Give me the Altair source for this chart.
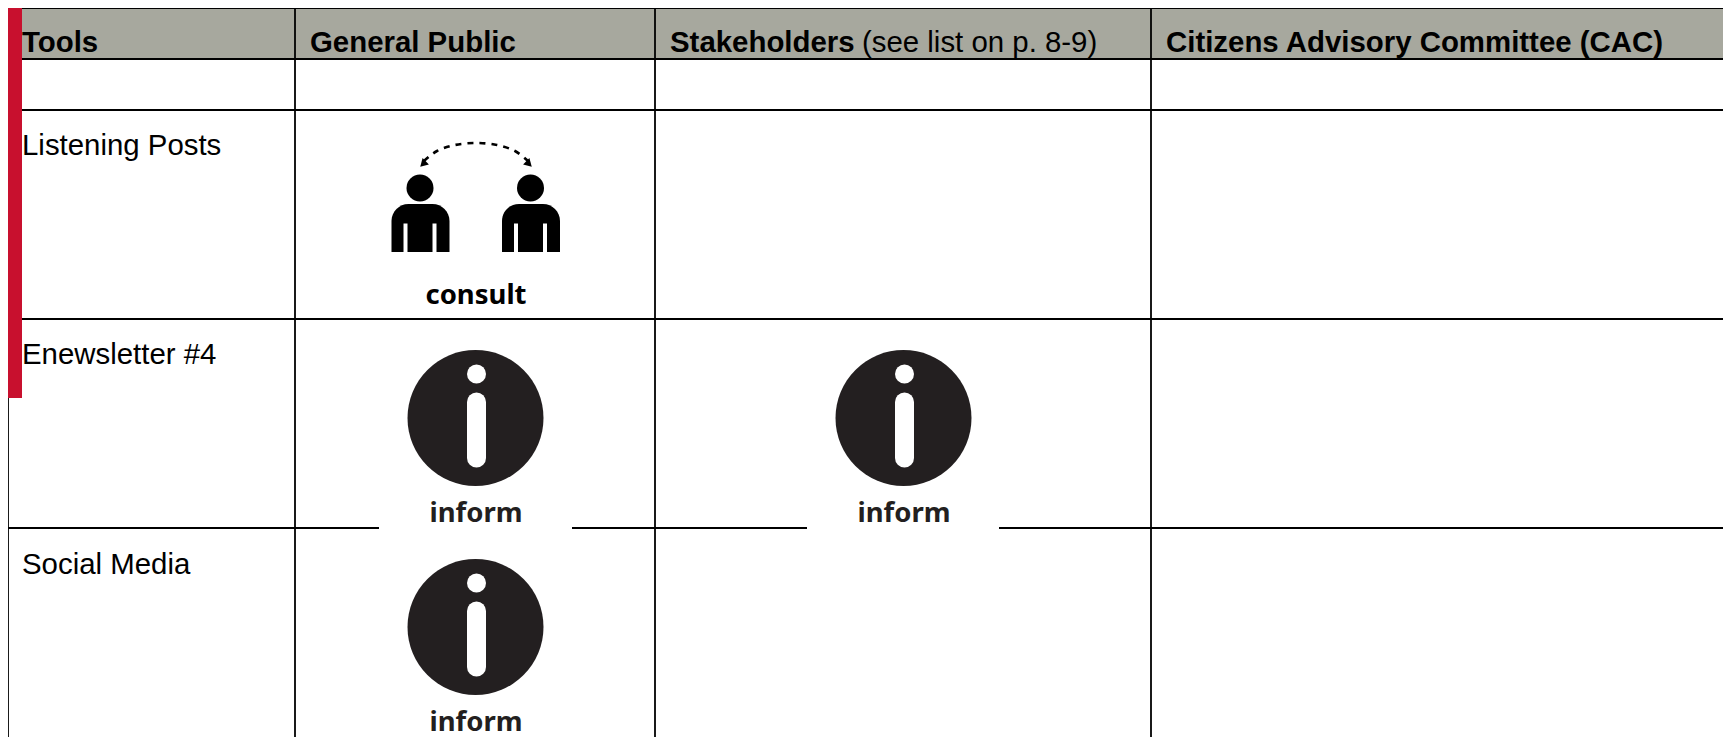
import altair as alt
import pandas as pd

# table structure
col_edges = [8, 295, 655, 1151]
row_edges = [8, 59, 110, 319, 528]
bottom = 737
right = 1723

headers_bold = ["Tools", "General Public", "Stakeholders", "Citizens Advisory Committee (CAC)"]
headers_x = [22, 310, 670, 1166]
header_note = ["(see list on p. 8-9)"]
header_note_x = [862]
tools = ["Listening Posts", "Enewsletter #4", "Social Media"]
tools_y = [154.5, 363.5, 573.5]

# inform icons: centre of the disc
inform_x = [475.5, 903.5, 475.5]
inform_y = [418, 418, 627]
# white backing of the pasted inform images, which interrupts a rule
patch_left = [379, 807, 379]
patch_right = [572, 999, 572]

# consult icon
heads_x = [420, 530.5]
heads_y = [188, 188]
body_left = [391.5, 502]
body_right = [449.5, 560]
slit_left = [403.5, 432.5, 514, 543]
slit_right = [407.5, 436.5, 518, 547]
arc_x = [424, 437, 455, 476, 497, 515, 528]
arc_y = [161, 151, 145, 143, 145, 151, 161]
tip_x = [423, 529]
tip_y = [164, 164]
tip_angle = [45, 315]

GRAY = "#a7a89e"
RED = "#c8102e"
INK = "#231f20"

xs = alt.Scale(domain=[8, right], nice=False, zero=False)
ys = alt.Scale(domain=[bottom, 8], nice=False, zero=False)
X = lambda f: alt.X(f, type="quantitative", scale=xs, axis=None)
Y = lambda f: alt.Y(f, type="quantitative", scale=ys, axis=None)


def rects(df, **kw):
    return alt.Chart(df).mark_rect(**kw).encode(x=X("x"), x2="x2", y=Y("y"), y2="y2")


def texts(df, **kw):
    return alt.Chart(df).mark_text(align=kw.pop("align", "left"), baseline="alphabetic", **kw).encode(
        x=X("x"), y=Y("y"), text="t:N")


def dots(df, size, color):
    return alt.Chart(df).mark_point(filled=True, size=size, color=color, opacity=1, strokeWidth=0).encode(
        x=X("x"), y=Y("y"))


header = rects(pd.DataFrame({"x": [8], "x2": [right], "y": [8], "y2": [row_edges[1]]}), color=GRAY)

h_lines = alt.Chart(pd.DataFrame({"y": row_edges, "x": [8] * 5, "x2": [right] * 5})).mark_rule(
    color="black", strokeWidth=1.8).encode(x=X("x"), x2="x2", y=Y("y"))
v_lines = alt.Chart(pd.DataFrame({"x": col_edges, "y": [8] * 4, "y2": [bottom] * 4})).mark_rule(
    color="black", strokeWidth=1.8).encode(x=X("x"), y=Y("y"), y2="y2")

patches = rects(pd.DataFrame({"x": patch_left, "x2": patch_right,
                              "y": [a - 190 for a in [528, 528, 737]],
                              "y2": [530, 530, 737]}), color="white")

red = rects(pd.DataFrame({"x": [8], "x2": [22], "y": [8], "y2": [398]}), color=RED)

head_text = texts(pd.DataFrame({"x": headers_x, "y": [51.5] * 4, "t": headers_bold}),
                  font="Liberation Sans", fontSize=29.4, fontWeight="bold", color="black")
note_text = texts(pd.DataFrame({"x": header_note_x, "y": [51.5], "t": header_note}),
                  font="Liberation Sans", fontSize=29.4, color="black")
tool_text = texts(pd.DataFrame({"x": [22] * 3, "y": tools_y, "t": tools}),
                  font="Liberation Sans", fontSize=29.4, color="black")

# inform icons
discs = dots(pd.DataFrame({"x": inform_x, "y": inform_y}), 18496, INK)
i_dots = dots(pd.DataFrame({"x": [a + 1 for a in inform_x], "y": [b - 44 for b in inform_y]}), 361, "white")
i_stems = alt.Chart(pd.DataFrame({"x": [a + 1 for a in inform_x],
                                  "y": [b - 16 for b in inform_y],
                                  "y2": [b + 40 for b in inform_y]})).mark_rule(
    color="white", strokeWidth=19, strokeCap="round").encode(x=X("x"), y=Y("y"), y2="y2")
i_labels = texts(pd.DataFrame({"x": [a + 0.5 for a in inform_x], "y": [b + 103.5 for b in inform_y],
                               "t": ["inform"] * 3}),
                 align="center", font="Noto Sans", fontSize=27.5, fontWeight="bold", color=INK)

# consult icon
heads = dots(pd.DataFrame({"x": heads_x, "y": heads_y}), 729, "black")
bodies = rects(pd.DataFrame({"x": body_left, "x2": body_right, "y": [204] * 2, "y2": [252] * 2}),
               color="black", cornerRadiusTopLeft=17, cornerRadiusTopRight=17)
slits = rects(pd.DataFrame({"x": slit_left, "x2": slit_right, "y": [223.5] * 4, "y2": [252.5] * 4}), color="white")
arc = alt.Chart(pd.DataFrame({"x": arc_x, "y": arc_y})).mark_line(
    color="black", strokeWidth=2.6, strokeDash=[6, 6], interpolate="cardinal").encode(x=X("x"), y=Y("y"))
tips = alt.Chart(pd.DataFrame({"x": tip_x, "y": tip_y, "a": tip_angle})).mark_point(
    filled=True, shape="triangle-down", size=80, color="black", opacity=1, strokeWidth=0).encode(
    x=X("x"), y=Y("y"), angle=alt.Angle("a:Q", scale=None))
c_label = texts(pd.DataFrame({"x": [476], "y": [304], "t": ["consult"]}),
                align="center", font="Noto Sans", fontSize=27.5, fontWeight="bold", color="black")

chart = alt.layer(
    header, h_lines, v_lines, patches, red,
    discs, i_dots, i_stems, i_labels,
    arc, tips, heads, bodies, slits, c_label,
    head_text, note_text, tool_text,
).properties(
    width=1715, height=729, padding=0, background="white",
    autosize=alt.AutoSizeParams(type="none"),
).configure_view(stroke=None)

chart.save("out.html", embed_options={"renderer": "svg", "actions": False})
